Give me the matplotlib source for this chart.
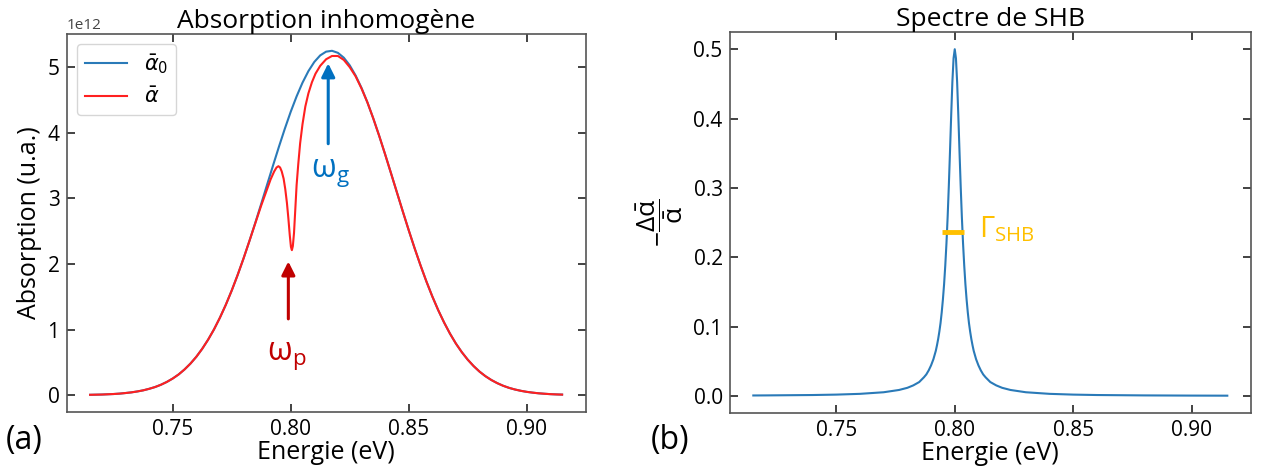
import matplotlib
matplotlib.use('Agg')
import matplotlib.pyplot as plt
from matplotlib.font_manager import FontProperties
from matplotlib.ticker import FormatStrFormatter

plt.rcParams['font.family'] = ['Open Sans', 'DejaVu Sans']
plt.rcParams['mathtext.fontset'] = 'custom'
plt.rcParams['mathtext.rm'] = 'Open Sans'
plt.rcParams['mathtext.it'] = 'Open Sans:italic'
plt.rcParams['mathtext.bf'] = 'Open Sans:bold'

# absorption without hole (x1e12), read every 2.5 meV
e_blue = [0.7150, 0.7175, 0.7200, 0.7225, 0.7250, 0.7275, 0.7300, 0.7325, 0.7350, 0.7375,
          0.7400, 0.7425, 0.7450, 0.7475, 0.7500, 0.7525, 0.7550, 0.7575, 0.7600, 0.7625,
          0.7650, 0.7675, 0.7700, 0.7725, 0.7750, 0.7775, 0.7800, 0.7825, 0.7850, 0.7875,
          0.7900, 0.7925, 0.7950, 0.7975, 0.8000, 0.8025, 0.8050, 0.8075, 0.8100, 0.8125,
          0.8150, 0.8175, 0.8200, 0.8225, 0.8250, 0.8275, 0.8300, 0.8325, 0.8350, 0.8375,
          0.8400, 0.8425, 0.8450, 0.8475, 0.8500, 0.8525, 0.8550, 0.8575, 0.8600, 0.8625,
          0.8650, 0.8675, 0.8700, 0.8725, 0.8750, 0.8775, 0.8800, 0.8825, 0.8850, 0.8875,
          0.8900, 0.8925, 0.8950, 0.8975, 0.9000, 0.9025, 0.9050, 0.9075, 0.9100, 0.9125,
          0.9150]
a0 = [0.005, 0.007, 0.009, 0.013, 0.017, 0.023, 0.032, 0.042, 0.056, 0.073,
      0.096, 0.123, 0.158, 0.201, 0.253, 0.315, 0.391, 0.480, 0.584, 0.706,
      0.845, 1.002, 1.180, 1.377, 1.594, 1.830, 2.082, 2.349, 2.628, 2.916,
      3.208, 3.499, 3.785, 4.060, 4.319, 4.554, 4.763, 4.939, 5.079, 5.179,
      5.236, 5.249, 5.218, 5.144, 5.028, 4.873, 4.684, 4.463, 4.217, 3.952,
      3.672, 3.383, 3.091, 2.800, 2.515, 2.240, 1.979, 1.733, 1.505, 1.296,
      1.107, 0.937, 0.786, 0.655, 0.541, 0.443, 0.359, 0.289, 0.231, 0.183,
      0.143, 0.111, 0.086, 0.066, 0.050, 0.038, 0.028, 0.021, 0.015, 0.011,
      0.008]

# absorption with the burnt hole (x1e12)
e_red = [0.7150, 0.7175, 0.7200, 0.7225, 0.7250, 0.7275, 0.7300, 0.7325, 0.7350, 0.7375,
         0.7400, 0.7425, 0.7450, 0.7475, 0.7500, 0.7525, 0.7550, 0.7575, 0.7600, 0.7625,
         0.7650, 0.7675, 0.7700, 0.7725, 0.7750, 0.7775, 0.7800, 0.7825, 0.7850, 0.7875,
         0.7900, 0.7915, 0.7930, 0.7940, 0.7948, 0.7955, 0.7962, 0.7970, 0.7977, 0.7984,
         0.7990, 0.7996, 0.8001, 0.8005, 0.8009, 0.8014, 0.8019, 0.8025, 0.8032, 0.8040,
         0.8050, 0.8062, 0.8075, 0.8090, 0.8105, 0.8125, 0.8150, 0.8175, 0.8200, 0.8225,
         0.8250, 0.8275, 0.8300, 0.8325, 0.8350, 0.8375, 0.8400, 0.8425, 0.8450, 0.8475,
         0.8500, 0.8525, 0.8550, 0.8575, 0.8600, 0.8625, 0.8650, 0.8675, 0.8700, 0.8725,
         0.8750, 0.8775, 0.8800, 0.8825, 0.8850, 0.8875, 0.8900, 0.8925, 0.8950, 0.8975,
         0.9000, 0.9025, 0.9050, 0.9075, 0.9100, 0.9125, 0.9150]
a = [0.005, 0.007, 0.009, 0.013, 0.017, 0.023, 0.032, 0.042, 0.056, 0.073,
     0.096, 0.123, 0.158, 0.201, 0.253, 0.315, 0.391, 0.480, 0.584, 0.706,
     0.845, 1.002, 1.180, 1.377, 1.594, 1.830, 2.082, 2.349, 2.620, 2.890,
     3.140, 3.290, 3.410, 3.470, 3.490, 3.470, 3.410, 3.300, 3.140, 2.930,
     2.700, 2.440, 2.260, 2.210, 2.270, 2.470, 2.800, 3.200, 3.520, 3.840,
     4.130, 4.400, 4.600, 4.770, 4.900, 5.020, 5.120, 5.170, 5.170, 5.110,
     5.000, 4.860, 4.675, 4.463, 4.217, 3.952, 3.672, 3.383, 3.091, 2.800,
     2.515, 2.240, 1.979, 1.733, 1.505, 1.296, 1.107, 0.937, 0.786, 0.655,
     0.541, 0.443, 0.359, 0.289, 0.231, 0.183, 0.143, 0.111, 0.086, 0.066,
     0.050, 0.038, 0.028, 0.021, 0.015, 0.011, 0.008]

# SHB spectrum  -d(alpha)/alpha
e_shb = [0.7150, 0.7200, 0.7400, 0.7500, 0.7600, 0.7700, 0.7765, 0.7800, 0.7825, 0.7850,
         0.7870, 0.7880, 0.7890, 0.7900, 0.7910, 0.7920, 0.7925, 0.7930, 0.7935, 0.7940,
         0.7945, 0.7950, 0.7955, 0.7960, 0.7965, 0.7970, 0.7975, 0.7980, 0.7985, 0.7990,
         0.7995, 0.8000, 0.8005, 0.8010, 0.8015, 0.8020, 0.8025, 0.8030, 0.8035, 0.8040,
         0.8045, 0.8050, 0.8055, 0.8060, 0.8065, 0.8070, 0.8075, 0.8080, 0.8090, 0.8100,
         0.8110, 0.8120, 0.8130, 0.8150, 0.8175, 0.8200, 0.8235, 0.8300, 0.8400, 0.8500,
         0.8600, 0.8800, 0.9000, 0.9150]
shb = [0.00066, 0.00075, 0.0013, 0.0019, 0.0030, 0.0053, 0.0086, 0.0117, 0.0152, 0.020,
       0.0269, 0.031, 0.0368, 0.044, 0.053, 0.065, 0.073, 0.082, 0.0927, 0.105,
       0.1205, 0.139, 0.161, 0.188, 0.220, 0.258, 0.303, 0.353, 0.405, 0.453,
       0.487, 0.500, 0.487, 0.453, 0.405, 0.353, 0.303, 0.258, 0.220, 0.188,
       0.161, 0.139, 0.1205, 0.105, 0.0927, 0.082, 0.073, 0.065, 0.053, 0.044,
       0.0368, 0.031, 0.0269, 0.020, 0.0152, 0.0117, 0.0086, 0.0053, 0.0030, 0.0019,
       0.0013, 0.00075, 0.00048, 0.00036]

xticks = [0.75, 0.80, 0.85, 0.90]


def style(ax):
    ax.tick_params(direction='in', top=True, right=True, length=6, width=1.2,
                   labelsize=15, color='#222222', pad=5)
    for s in ax.spines.values():
        s.set_color('#555555')
        s.set_linewidth(1.2)
    ax.set_xticks(xticks)
    ax.xaxis.set_major_formatter(FormatStrFormatter('%.2f'))
    ax.set_xlabel('Energie (eV)', fontsize=18, labelpad=0)


fig = plt.figure(figsize=(12.63, 4.70), dpi=100)
ax1 = fig.add_axes([66.5 / 1263, 1 - 412 / 470, (585.7 - 66.5) / 1263, (412 - 33.6) / 470])
ax2 = fig.add_axes([729.6 / 1263, 1 - 413 / 470, (1251 - 729.6) / 1263, (413 - 31.9) / 470])

# left panel
ax1.plot(e_blue, [v * 1e12 for v in a0], color='#2a7ab8', lw=1.5, label=r'$\bar{\alpha}_0$')
ax1.plot(e_red, [v * 1e12 for v in a], color='#ff2020', lw=1.5, label=r'$\bar{\alpha}$')
style(ax1)
ax1.set_ylabel('Absorption (u.a.)', fontsize=18, labelpad=4)
ax1.set_title('Absorption inhomogène', fontsize=19, pad=4)
ax1.yaxis.get_offset_text().set_fontsize(11)
ax1.yaxis.get_offset_text().set_color('#444444')
ax1.legend(loc='upper left', prop=FontProperties(family='DejaVu Sans', size=15,
                                                 math_fontfamily='dejavusans'),
           handlelength=2.0, borderaxespad=0.5)

ax1.annotate('', xy=(0.8159, 5.1e12), xytext=(0.8159, 3.79e12),
             arrowprops=dict(arrowstyle='-|>', color='#0070c0', lw=2.2, mutation_scale=20))
ax1.text(0.8167, 3.40e12, r'$\mathrm{\omega_g}$', color='#0070c0', fontsize=23,
         ha='center', va='center')
ax1.annotate('', xy=(0.799, 2.08e12), xytext=(0.799, 1.12e12),
             arrowprops=dict(arrowstyle='-|>', color='#c00000', lw=2.2, mutation_scale=20))
ax1.text(0.7985, 0.60e12, r'$\mathrm{\omega_p}$', color='#c00000', fontsize=23,
         ha='center', va='center')

# right panel
ax2.plot(e_shb, shb, color='#2a7ab8', lw=1.5)
style(ax2)
ax2.yaxis.set_major_formatter(FormatStrFormatter('%.1f'))
ax2.set_ylabel(r'$-\dfrac{\Delta\mathrm{\bar{\alpha}}}{\mathrm{\bar{\alpha}}}$', fontsize=19, labelpad=6)
ax2.set_title('Spectre de SHB', fontsize=19, pad=4)
ax2.plot([0.7947, 0.8040], [0.237, 0.237], color='#ffc000', lw=3.5, solid_capstyle='butt')
ax2.text(0.8103, 0.229, r'$\mathrm{\Gamma_{SHB}}$', color='#ffc000', fontsize=21,
         ha='left', va='baseline')

fig.text(24 / 1263, 1 - 440 / 470, '(a)', fontsize=23, ha='center', va='center')
fig.text(670 / 1263, 1 - 440 / 470, '(b)', fontsize=23, ha='center', va='center')

fig.savefig('out.png', dpi=100)
